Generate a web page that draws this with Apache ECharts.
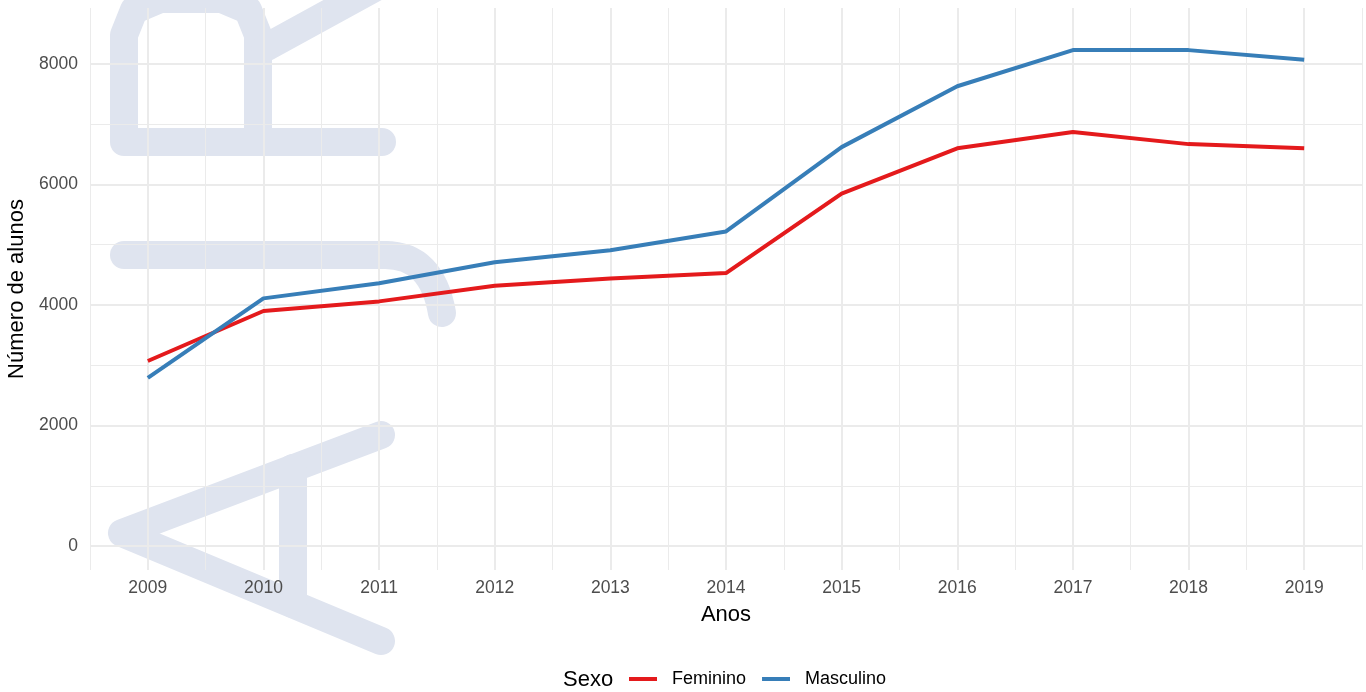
<!DOCTYPE html>
<html>
<head>
<meta charset="utf-8">
<title>Número de alunos por sexo</title>
<script src="https://cdn.jsdelivr.net/npm/echarts@6/dist/echarts.min.js"></script>
<style>
  html, body { margin: 0; padding: 0; background: #fff; }
  #chart { width: 1366px; height: 692px; }
</style>
</head>
<body>
<div id="chart"></div>
<script>
// dados
const anos = [2009, 2010, 2011, 2012, 2013, 2014, 2015, 2016, 2017, 2018, 2019];
const feminino = [3070, 3900, 4060, 4320, 4440, 4530, 5850, 6600, 6870, 6670, 6600];
const masculino = [2790, 4110, 4360, 4710, 4910, 5220, 6620, 7630, 8230, 8230, 8070];

// linhas de grade (estilo ggplot theme_minimal)
const xMajor = [2009, 2010, 2011, 2012, 2013, 2014, 2015, 2016, 2017, 2018, 2019];
const xMinor = [2008.5, 2009.5, 2010.5, 2011.5, 2012.5, 2013.5, 2014.5, 2015.5, 2016.5, 2017.5, 2018.5, 2019.5];
const yMajor = [0, 2000, 4000, 6000, 8000];
const yMinor = [1000, 3000, 5000, 7000];

const FONT = '"Liberation Sans", Arial, sans-serif';
const GRID = '#ebebeb';
const WM = '#dfe4ef';

const chart = echarts.init(document.getElementById('chart'));

const gridLines = [
  ...xMinor.map(v => ({ xAxis: v, lineStyle: { width: 1, color: GRID } })),
  ...yMinor.map(v => ({ yAxis: v, lineStyle: { width: 1, color: GRID } })),
  ...xMajor.map(v => ({ xAxis: v, lineStyle: { width: 2, color: GRID } })),
  ...yMajor.map(v => ({ yAxis: v, lineStyle: { width: 2, color: GRID } }))
];

// marca d'água ao fundo
const wmStyle = { fill: null, stroke: WM, lineWidth: 28, lineCap: 'round', lineJoin: 'round' };
const watermark = [
  { type: 'polyline', shape: { points: [[381, 435], [122, 533], [381, 641]] } },
  { type: 'polyline', shape: { points: [[293, 468], [293, 604]] } },
  { type: 'polyline', shape: { points: [[124, 255], [385, 255]] } },
  { type: 'bezierCurve', shape: { x1: 385, y1: 255, cpx1: 432, cpy1: 255, x2: 442, y2: 313 } },
  { type: 'polyline', shape: { points: [[382, 142], [124, 142], [124, 35], [134, 10], [160, -1], [222, -1], [248, 10], [258, 35], [258, 142]] } },
  { type: 'polyline', shape: { points: [[265, 48], [400, -26]] } }
].map(el => Object.assign(el, { z: -10, silent: true, style: Object.assign({}, wmStyle) }));

const option = {
  backgroundColor: '#fff',
  animation: false,
  textStyle: { fontFamily: FONT },
  graphic: [
    { type: 'group', z: -10, silent: true, children: watermark },
    {
      type: 'text', left: 563, top: 669, z: 10,
      style: { text: 'Sexo', fontSize: 22, fontFamily: FONT, fill: '#000' }
    }
  ],
  grid: { left: 90, right: 4, top: 8, bottom: 122, outerBoundsMode: 'none' },
  legend: {
    data: ['Feminino', 'Masculino'],
    left: 629,
    top: 670,
    padding: 0,
    icon: 'rect',
    itemWidth: 28,
    itemHeight: 4,
    itemGap: 16,
    textStyle: { fontSize: 18, color: '#000', fontFamily: FONT, padding: [0, 0, 0, 10] }
  },
  xAxis: {
    type: 'value',
    min: 2008.5,
    max: 2019.5,
    interval: 0.5,
    name: 'Anos',
    nameLocation: 'middle',
    nameGap: 34,
    nameTextStyle: { fontSize: 22, color: '#000', fontFamily: FONT },
    axisLine: { show: false },
    axisTick: { show: false },
    splitLine: { show: false },
    axisLabel: {
      margin: 9,
      fontSize: 17.5,
      color: '#4d4d4d',
      fontFamily: FONT,
      formatter: v => (Math.abs(v - Math.round(v)) < 1e-6 ? String(Math.round(v)) : '')
    }
  },
  yAxis: {
    type: 'value',
    min: -398,
    max: 8929,
    splitNumber: 5,
    name: 'Número de alunos',
    nameLocation: 'middle',
    nameGap: 50,
    nameTextStyle: { fontSize: 22, color: '#000', fontFamily: FONT },
    axisLine: { show: false },
    axisTick: { show: false },
    splitLine: { show: false },
    axisLabel: {
      margin: 12,
      fontSize: 17.5,
      color: '#4d4d4d',
      fontFamily: FONT,
      formatter: v => (v >= 0 && v % 2000 === 0 ? String(v) : '')
    }
  },
  series: [
    {
      name: 'Feminino',
      type: 'line',
      data: anos.map((a, i) => [a, feminino[i]]),
      color: '#E41A1C',
      lineStyle: { width: 4, color: '#E41A1C' },
      showSymbol: false,
      symbol: 'none',
      z: 3,
      markLine: {
        silent: true,
        symbol: 'none',
        z: 1,
        animation: false,
        label: { show: false },
        emphasis: { disabled: true },
        lineStyle: { type: 'solid' },
        data: gridLines
      }
    },
    {
      name: 'Masculino',
      type: 'line',
      data: anos.map((a, i) => [a, masculino[i]]),
      color: '#377EB8',
      lineStyle: { width: 4, color: '#377EB8' },
      showSymbol: false,
      symbol: 'none',
      z: 3
    }
  ]
};

chart.setOption(option);
window.addEventListener('resize', () => chart.resize());
</script>
</body>
</html>
